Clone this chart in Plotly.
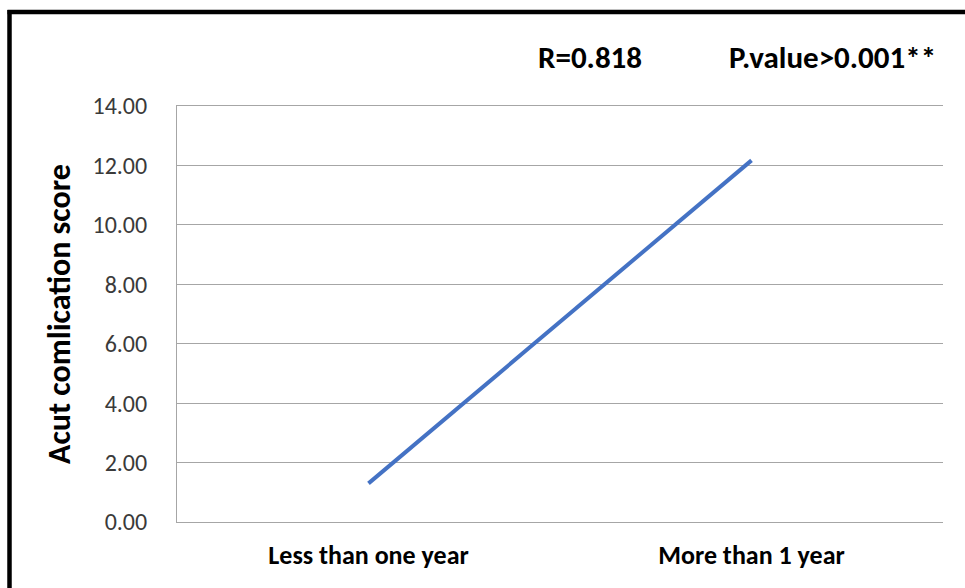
import plotly.graph_objects as go

# Duration of illness vs. acute complication score
categories = ["Less than one year", "More than 1 year"]
scores = [1.30, 12.17]
y_ticks = [0, 2, 4, 6, 8, 10, 12, 14]
y_tick_labels = ["0.00", "2.00", "4.00", "6.00", "8.00", "10.00", "12.00", "14.00"]
r_text = "R=0.818"
p_text = "P.value>0.001**"

W, H = 965, 588
L, R, T, B = 177, 22, 106, 66
pw, ph = W - L - R, H - T - B

def px_x(x):
    return (x - L) / pw

def px_y(y):
    return (H - B - y) / ph

font_family = "Carlito, Lato, 'Open Sans', sans-serif"

fig = go.Figure()
fig.add_trace(go.Scatter(
    x=categories, y=scores, mode="lines",
    line=dict(color="#4472C4", width=4),
    showlegend=False, hoverinfo="skip",
))

fig.update_layout(
    width=W, height=H,
    margin=dict(l=L, r=R, t=T, b=B, pad=0),
    paper_bgcolor="white", plot_bgcolor="white",
    font=dict(family=font_family, color="#3a3a3a"),
    xaxis=dict(
        type="category", range=[-0.5, 1.5],
        showgrid=False, zeroline=False,
        showline=True, mirror=True, linecolor="#A6A6A6", linewidth=1,
        ticks="",
        tickfont=dict(size=26, color="#000000", family=font_family, weight="bold"),
        ticklabelstandoff=10,
    ),
    yaxis=dict(
        range=[0, 14], tickvals=y_ticks, ticktext=y_tick_labels,
        showgrid=True, gridcolor="#A6A6A6", gridwidth=1,
        zeroline=False, showline=True, linecolor="#A6A6A6", linewidth=1,
        ticks="", tickfont=dict(size=24, color="#3a3a3a"),
        ticklabelstandoff=24,
        title=dict(text="Acut comlication score",
                   font=dict(size=32, color="#000000", weight="bold"),
                   standoff=12),
    ),
    annotations=[
        dict(text=r_text, xref="paper", yref="paper",
             x=px_x(590), y=px_y(57), showarrow=False,
             xanchor="center", yanchor="middle",
             font=dict(size=31, color="#000000", weight="bold")),
        dict(text=p_text, xref="paper", yref="paper",
             x=px_x(832), y=px_y(57), showarrow=False,
             xanchor="center", yanchor="middle",
             font=dict(size=31, color="#000000", weight="bold")),
    ],
    shapes=[
        # black frame along top and left edges
        dict(type="line", xref="paper", yref="paper",
             x0=px_x(7.5), x1=px_x(970), y0=px_y(12), y1=px_y(12),
             line=dict(color="#000000", width=4.5)),
        dict(type="line", xref="paper", yref="paper",
             x0=px_x(9.5), x1=px_x(9.5), y0=px_y(10), y1=px_y(600),
             line=dict(color="#000000", width=4.5)),
    ],
)

fig.write_html("out.html")
